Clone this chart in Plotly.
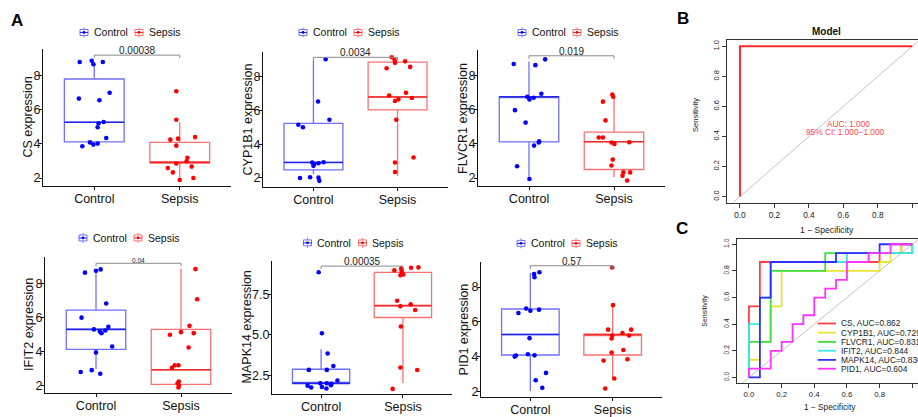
import plotly.graph_objects as go

W, H = 918, 417
FONT = "Liberation Sans, Arial, Helvetica, sans-serif"


def fx(p):
    return p / W


def fy(p):
    return 1 - p / H


GROUPS = ["Control", "Sepsis"]

# ---------------- Panel A data (expression values, jitter offsets, box stats) ----------------
# box stats: [lower whisker, Q1, median, Q3, upper whisker]
CS_CONTROL = [8.81, 8.88, 8.68, 8.81, 6.66, 6.56, 7.00, 5.29, 5.21, 4.98, 4.35, 4.09, 4.02, 3.96, 3.86]
CS_CONTROL_JITTER = [-0.17, -0.03, -0.01, 0.10, -0.18, 0.06, 0.18, 0.11, 0.05, 0.04, 0.14, -0.05, 0.04, -0.01, -0.14]
CS_SEPSIS = [7.09, 5.42, 4.25, 4.31, 4.40, 3.90, 3.19, 2.98, 2.85, 2.58, 2.67, 2.33, 1.88, 2.00]
CS_SEPSIS_JITTER = [-0.04, -0.04, -0.11, -0.02, 0.18, -0.04, 0.09, 0.08, -0.04, -0.14, 0.14, -0.08, 0.0, 0.16]
CS_BOX_CONTROL = [4.12, 4.12, 5.27, 7.81, 8.68]
CS_BOX_SEPSIS = [1.85, 2.90, 2.90, 4.09, 5.27]

CYP1B1_CONTROL = [9.03, 6.53, 5.45, 5.15, 5.01, 2.92, 2.83, 2.87, 2.93, 2.72, 2.00, 2.04, 2.02, 1.83]
CYP1B1_CONTROL_JITTER = [0.145, 0.055, 0.19, -0.18, -0.125, -0.015, 0.01, 0.06, 0.12, 0.0, -0.16, -0.04, 0.06, 0.07]
CYP1B1_SEPSIS = [9.15, 8.99, 8.82, 8.91, 8.58, 8.50, 6.89, 7.05, 6.66, 6.56, 6.74, 5.45, 2.92, 3.21, 2.35]
CYP1B1_SEPSIS_JITTER = [-0.07, -0.035, -0.03, 0.09, 0.15, -0.13, -0.10, 0.10, 0.01, -0.03, 0.17, -0.015, -0.03, 0.19, -0.03]
CYP1B1_BOX_CONTROL = [2.22, 2.48, 2.92, 5.24, 8.99]
CYP1B1_BOX_SEPSIS = [2.10, 6.04, 6.80, 8.86, 8.86]

FLVCR1_CONTROL = [8.69, 8.62, 8.96, 6.94, 6.77, 6.71, 6.61, 5.98, 5.25, 4.15, 4.08, 3.90, 2.69, 1.94]
FLVCR1_CONTROL_JITTER = [-0.18, 0.075, 0.19, 0.145, -0.02, 0.055, 0.005, -0.165, -0.04, 0.12, 0.115, 0.06, -0.14, 0.005]
FLVCR1_SEPSIS = [6.90, 6.77, 6.48, 5.38, 4.38, 4.38, 4.08, 4.00, 4.10, 3.08, 2.73, 2.33, 2.13, 2.33, 1.85]
FLVCR1_SEPSIS_JITTER = [-0.02, -0.01, -0.13, -0.10, -0.18, -0.13, -0.03, 0.005, 0.18, -0.015, -0.03, 0.11, 0.10, 0.19, 0.155]
FLVCR1_BOX_CONTROL = [2.00, 4.12, 6.77, 6.77, 8.83]
FLVCR1_BOX_SEPSIS = [2.05, 2.50, 4.13, 4.69, 6.75]

IFIT2_CONTROL = [8.62, 8.73, 8.81, 6.81, 5.98, 5.29, 5.44, 5.17, 5.23, 5.07, 4.29, 3.94, 2.79, 2.90, 2.69]
IFIT2_CONTROL_JITTER = [-0.13, 0.0, 0.055, 0.12, -0.17, -0.025, 0.145, 0.045, 0.11, 0.065, 0.19, 0.0, -0.18, -0.05, 0.05]
IFIT2_SEPSIS = [8.83, 7.06, 5.50, 5.13, 5.07, 4.98, 4.23, 3.19, 3.19, 3.04, 2.23, 2.13, 2.00, 1.88]
IFIT2_SEPSIS_JITTER = [0.17, 0.19, 0.10, 0.0, 0.15, -0.13, 0.09, -0.075, -0.03, -0.105, -0.025, -0.04, -0.025, -0.03]
IFIT2_BOX_CONTROL = [2.96, 4.12, 5.29, 6.42, 8.73]
IFIT2_BOX_SEPSIS = [2.06, 2.06, 2.92, 5.29, 8.85]

MAPK14_CONTROL = [8.85, 5.10, 3.86, 3.09, 2.85, 2.85, 2.20, 2.03, 2.03, 1.99, 1.91, 1.88, 1.77, 1.80, 1.71]
MAPK14_CONTROL_JITTER = [-0.03, 0.01, 0.08, 0.15, -0.15, 0.07, 0.20, -0.01, 0.07, 0.125, 0.12, -0.165, -0.12, 0.01, 0.065]
MAPK14_SEPSIS = [8.97, 8.97, 9.09, 9.13, 9.15, 8.81, 8.67, 8.71, 7.10, 6.88, 6.76, 6.53, 5.52, 3.00, 2.84, 1.68]
MAPK14_SEPSIS_JITTER = [-0.105, -0.015, -0.02, 0.10, 0.19, -0.015, -0.03, 0.005, -0.07, 0.095, -0.03, 0.15, -0.025, -0.03, 0.175, -0.125]
MAPK14_BOX_CONTROL = [2.02, 2.02, 2.02, 2.89, 4.12]
MAPK14_BOX_SEPSIS = [2.04, 6.07, 6.80, 8.85, 8.85]

PID1_CONTROL = [8.75, 8.85, 8.57, 6.51, 6.77, 6.64, 6.70, 5.06, 4.00, 4.06, 4.13, 4.07, 3.06, 2.64, 2.21]
PID1_CONTROL_JITTER = [0.045, 0.11, 0.05, -0.145, -0.05, 0.0, 0.105, -0.01, -0.19, -0.175, -0.03, 0.05, 0.19, 0.065, 0.145]
PID1_SEPSIS = [9.13, 6.96, 5.55, 5.55, 5.36, 5.21, 5.21, 5.04, 4.38, 4.23, 3.77, 3.85, 2.74, 2.16]
PID1_SEPSIS_JITTER = [-0.005, 0.005, -0.055, 0.225, 0.12, 0.20, -0.005, -0.012, 0.13, -0.012, -0.11, 0.18, 0.02, -0.09]
PID1_BOX_CONTROL = [2.02, 4.09, 5.27, 6.74, 8.81]
PID1_BOX_SEPSIS = [2.68, 4.09, 5.27, 5.27, 6.89]

GENES = ["CS", "CYP1B1", "FLVCR1", "IFIT2", "MAPK14", "PID1"]
P_VALUES = ["0.00038", "0.0034", "0.019", "0.04", "0.00035", "0.57"]
BRACKET_Y = [9.21, 9.15, 9.17, 9.17, 9.23, 9.23]

# ---------------- Panel B / C data ----------------
MODEL_FPR = [0.0, 0.0, 1.0]
MODEL_TPR = [0.0, 1.0, 1.0]
MODEL_AUC = "AUC: 1.000"
MODEL_CI = "95% CI: 1.000\u22121.000"

ROC_NAMES = ["CS", "CYP1B1", "FLVCR1", "IFIT2", "MAPK14", "PID1"]
ROC_AUC = ["0.862", "0.729", "0.831", "0.844", "0.836", "0.604"]
CS_FPR = [0, 0, 0.067, 0.067, 0.8, 0.8, 0.933, 0.933, 1.0]
CS_TPR = [0, 0.533, 0.533, 0.867, 0.867, 0.933, 0.933, 1.0, 1.0]
CYP1B1_FPR = [0, 0, 0.067, 0.067, 0.133, 0.133, 0.2, 0.2, 0.8, 0.8, 0.867, 0.867, 0.933, 0.933, 1.0]
CYP1B1_TPR = [0, 0.133, 0.133, 0.267, 0.267, 0.533, 0.533, 0.8, 0.8, 0.867, 0.867, 0.933, 0.933, 1.0, 1.0]
FLVCR1_FPR = [0, 0, 0.133, 0.133, 0.467, 0.467, 1.0, 1.0]
FLVCR1_TPR = [0, 0.267, 0.267, 0.8, 0.8, 0.933, 0.933, 1.0]
IFIT2_FPR = [0, 0, 0.067, 0.067, 0.133, 0.133, 0.6, 0.6, 1.0, 1.0]
IFIT2_TPR = [0, 0.4, 0.4, 0.6, 0.6, 0.867, 0.867, 0.933, 0.933, 1.0]
MAPK14_FPR = [0, 0.067, 0.067, 0.133, 0.133, 0.533, 0.533, 0.8, 0.8, 1.0]
MAPK14_TPR = [0, 0, 0.6, 0.6, 0.867, 0.867, 0.933, 0.933, 1.0, 1.0]
PID1_FPR = [0, 0, 0.133, 0.133, 0.2, 0.2, 0.267, 0.267, 0.333, 0.333, 0.4, 0.4, 0.467, 0.467,
            0.533, 0.533, 0.6, 0.6, 0.733, 0.733, 0.867, 0.867, 1.0]
PID1_TPR = [0, 0.067, 0.067, 0.2, 0.2, 0.267, 0.267, 0.4, 0.4, 0.467, 0.467, 0.6, 0.6, 0.667,
            0.667, 0.733, 0.733, 0.867, 0.867, 0.933, 0.933, 1.0, 1.0]
DIAGONAL = [-0.2, 1.2]
ROC_TICKS = [0.0, 0.2, 0.4, 0.6, 0.8, 1.0]
ROC_TICKTEXT = ["0.0", "0.2", "0.4", "0.6", "0.8", "1.0"]

# ---------------- styling ----------------
POINT_COL = ["#0000FF", "#FF0000"]
BOX_COL = ["#7070FF", "#FF7070"]
MED_COL = ["#2323E8", "#EE2A2A"]
ROC_COL = ["#FF4040", "#E6E632", "#3EE03E", "#3EE6E6", "#2F2FFF", "#FF33FF"]

# layout of the six box panels (pixel geometry)
PANEL_GEOM = [
    dict(x=(43, 231), y=(49, 188), yr=(1.54, 9.56), title_x=28, leg=(84, 32)),
    dict(x=(263, 448), y=(52, 189), yr=(1.476, 9.456), title_x=248, leg=(303, 32)),
    dict(x=(478, 665), y=(50, 188), yr=(1.54, 9.50), title_x=463, leg=(522, 32)),
    dict(x=(45, 232), y=(260, 399), yr=(1.54, 9.56), title_x=29, leg=(83, 241)),
    dict(x=(272, 452), y=(264, 400), yr=(1.35, 9.57), title_x=247, leg=(307.5, 246)),
    dict(x=(481, 662), y=(265, 403), yr=(1.66, 9.47), title_x=464, leg=(521, 246.5)),
]
P_SIZE = [10, 10, 10, 6.5, 10, 10]
Y_TICKS = [[2, 4, 6, 8]] * 4 + [[2.5, 5.0, 7.5]] + [[2, 4, 6, 8]]
Y_TICKTEXT = [["2", "4", "6", "8"]] * 4 + [["2.5", "5.0", "7.5"]] + [["2", "4", "6", "8"]]

DATA = [
    (CS_CONTROL, CS_CONTROL_JITTER, CS_BOX_CONTROL, CS_SEPSIS, CS_SEPSIS_JITTER, CS_BOX_SEPSIS),
    (CYP1B1_CONTROL, CYP1B1_CONTROL_JITTER, CYP1B1_BOX_CONTROL, CYP1B1_SEPSIS, CYP1B1_SEPSIS_JITTER, CYP1B1_BOX_SEPSIS),
    (FLVCR1_CONTROL, FLVCR1_CONTROL_JITTER, FLVCR1_BOX_CONTROL, FLVCR1_SEPSIS, FLVCR1_SEPSIS_JITTER, FLVCR1_BOX_SEPSIS),
    (IFIT2_CONTROL, IFIT2_CONTROL_JITTER, IFIT2_BOX_CONTROL, IFIT2_SEPSIS, IFIT2_SEPSIS_JITTER, IFIT2_BOX_SEPSIS),
    (MAPK14_CONTROL, MAPK14_CONTROL_JITTER, MAPK14_BOX_CONTROL, MAPK14_SEPSIS, MAPK14_SEPSIS_JITTER, MAPK14_BOX_SEPSIS),
    (PID1_CONTROL, PID1_CONTROL_JITTER, PID1_BOX_CONTROL, PID1_SEPSIS, PID1_SEPSIS_JITTER, PID1_BOX_SEPSIS),
]

fig = go.Figure()
shapes = []
anns = []
BOX_W = 0.7


def note(x, y, text, size, color="#111111", xanchor="center", yanchor="middle", angle=0,
         xref="paper", yref="paper", yshift=0):
    return dict(x=x, y=y, xref=xref, yref=yref, text=text, showarrow=False, xanchor=xanchor,
                yanchor=yanchor, textangle=angle, yshift=yshift,
                font=dict(size=size, family=FONT, color=color))


for i in range(6):
    n = i + 1
    xa = "x" if n == 1 else f"x{n}"
    ya = "y" if n == 1 else f"y{n}"
    g = PANEL_GEOM[i]
    cv, cj, cb, sv, sj, sb = DATA[i]
    for gi, (vals, jit, box) in enumerate([(cv, cj, cb), (sv, sj, sb)]):
        pos = gi + 1
        fig.add_trace(go.Box(
            x=[pos], lowerfence=[box[0]], q1=[box[1]], median=[box[2]], q3=[box[3]],
            upperfence=[box[4]], orientation="v", width=BOX_W, whiskerwidth=0,
            fillcolor="white", line=dict(color=BOX_COL[gi], width=1.3), boxpoints=False,
            xaxis=xa, yaxis=ya, showlegend=False, hoverinfo="skip"))
        fig.add_trace(go.Scatter(
            x=[pos - BOX_W / 2, pos + BOX_W / 2], y=[box[2], box[2]], mode="lines",
            line=dict(color=MED_COL[gi], width=1.6), xaxis=xa, yaxis=ya,
            showlegend=False, hoverinfo="skip"))
        fig.add_trace(go.Scatter(
            x=[pos + j for j in jit], y=vals, mode="markers",
            marker=dict(size=4.6, color=POINT_COL[gi], line=dict(width=0)),
            xaxis=xa, yaxis=ya, showlegend=False, hoverinfo="skip", cliponaxis=False))
    b = BRACKET_Y[i]
    fig.add_trace(go.Scatter(
        x=[1, 1, 2, 2], y=[b - 0.18, b, b, b - 0.18], mode="lines",
        line=dict(color="#8a8a8a", width=1), xaxis=xa, yaxis=ya,
        showlegend=False, hoverinfo="skip", cliponaxis=False))
    anns.append(note(1.5, b, P_VALUES[i], P_SIZE[i], "#222222", yanchor="bottom",
                     xref=xa, yref=ya, yshift=-3))
    axis_common = dict(showline=True, linecolor="#111111", linewidth=1, ticks="outside",
                       ticklen=3, tickcolor="#111111", tickwidth=1, showgrid=False,
                       zeroline=False, fixedrange=True)
    fig.update_layout(**{
        ("xaxis" if n == 1 else f"xaxis{n}"): dict(
            domain=[fx(g["x"][0]), fx(g["x"][1])], range=[0.4, 2.6], anchor=ya,
            tickvals=[1, 2], ticktext=GROUPS, ticklabelstandoff=-2,
            tickfont=dict(size=12.5, family=FONT, color="#111111"), **axis_common),
        ("yaxis" if n == 1 else f"yaxis{n}"): dict(
            domain=[fy(g["y"][1]), fy(g["y"][0])], range=list(g["yr"]), anchor=xa,
            tickvals=Y_TICKS[i], ticktext=Y_TICKTEXT[i], ticklabelstandoff=-4,
            tickfont=dict(size=12.5, family=FONT, color="#111111"), **axis_common),
    })
    anns.append(note(fx(g["title_x"]), fy((g["y"][0] + g["y"][1]) / 2),
                     f"{GENES[i]} expression", 12.5, angle=-90))
    lx, ly = g["leg"]
    for gi, off in enumerate([0, 55]):
        cx = lx + off
        col = BOX_COL[gi]
        shapes.append(dict(type="rect", xref="paper", yref="paper", x0=fx(cx - 4), x1=fx(cx + 4),
                           y0=fy(ly + 3), y1=fy(ly - 3), line=dict(color=col, width=1)))
        shapes.append(dict(type="line", xref="paper", yref="paper", x0=fx(cx - 4), x1=fx(cx + 4),
                           y0=fy(ly), y1=fy(ly), line=dict(color=MED_COL[gi], width=1)))
        shapes.append(dict(type="line", xref="paper", yref="paper", x0=fx(cx), x1=fx(cx),
                           y0=fy(ly - 5), y1=fy(ly - 3), line=dict(color=col, width=1)))
        shapes.append(dict(type="line", xref="paper", yref="paper", x0=fx(cx), x1=fx(cx),
                           y0=fy(ly + 3), y1=fy(ly + 5), line=dict(color=col, width=1)))
        shapes.append(dict(type="circle", xref="paper", yref="paper", x0=fx(cx - 1.4),
                           x1=fx(cx + 1.4), y0=fy(ly + 1.4), y1=fy(ly - 1.4),
                           fillcolor=POINT_COL[gi], line=dict(width=0)))
        anns.append(note(fx(cx + 7.5), fy(ly), GROUPS[gi], 10.5, xanchor="left"))

# ---------------- Panel B ----------------
r_axis = dict(showline=True, linecolor="#333333", linewidth=1, ticks="outside", ticklen=4,
              tickcolor="#333333", showgrid=False, zeroline=False, fixedrange=True,
              tickvals=ROC_TICKS, ticktext=ROC_TICKTEXT)
fig.add_trace(go.Scatter(x=DIAGONAL, y=DIAGONAL, mode="lines", line=dict(color="#c4c4c4", width=1),
                         xaxis="x7", yaxis="y7", showlegend=False, hoverinfo="skip"))
fig.add_trace(go.Scatter(x=MODEL_FPR, y=MODEL_TPR, mode="lines", line=dict(color="#FF2B2B", width=2),
                         xaxis="x7", yaxis="y7", showlegend=False, hoverinfo="skip"))
fig.update_layout(
    xaxis7=dict(domain=[fx(726.7), 1.0], range=[-0.077, 1.033], anchor="y7", mirror=True,
                tickfont=dict(size=8.3, family=FONT, color="#222222"), **r_axis),
    yaxis7=dict(domain=[fy(205), fy(40)], range=[-0.04, 1.04], anchor="x7", tickangle=-90,
                tickfont=dict(size=7.5, family=FONT, color="#222222"), **r_axis),
)
anns += [
    note(0.627, 0.484, MODEL_AUC, 8.3, "#FF4444", xref="x7", yref="y7"),
    note(0.61, 0.428, MODEL_CI, 8.3, "#FF4444", xref="x7", yref="y7"),
    note(fx(826), fy(31), "<b>Model</b>", 10),
    note(fx(695), fy(116), "Sensitivity", 7.6, "#222222", angle=-90),
    note(fx(827), fy(233), "1 \u2212 Specificity", 8.6, "#222222"),
]

# ---------------- Panel C ----------------
fig.add_trace(go.Scatter(x=DIAGONAL, y=DIAGONAL, mode="lines", line=dict(color="#c4c4c4", width=1),
                         xaxis="x8", yaxis="y8", showlegend=False, hoverinfo="skip"))
ROC_SERIES = [(CS_FPR, CS_TPR), (CYP1B1_FPR, CYP1B1_TPR), (FLVCR1_FPR, FLVCR1_TPR),
              (IFIT2_FPR, IFIT2_TPR), (MAPK14_FPR, MAPK14_TPR), (PID1_FPR, PID1_TPR)]
for k, (fpr, tpr) in enumerate(ROC_SERIES):
    fig.add_trace(go.Scatter(x=fpr, y=tpr, mode="lines", line=dict(color=ROC_COL[k], width=1.8),
                             xaxis="x8", yaxis="y8", showlegend=False, hoverinfo="skip"))
fig.update_layout(
    xaxis8=dict(domain=[fx(736.7), 1.0], range=[-0.075, 1.035], anchor="y8", mirror=True,
                tickfont=dict(size=7.8, family=FONT, color="#222222"), **r_axis),
    yaxis8=dict(domain=[fy(388.3), fy(242)], range=[-0.04, 1.04], anchor="x8", tickangle=-90,
                tickfont=dict(size=6.8, family=FONT, color="#222222"), **r_axis),
)
LEG_ROWS = [328, 337.3, 346.7, 355.7, 365, 374]
for k, name in enumerate(ROC_NAMES):
    shapes.append(dict(type="line", xref="paper", yref="paper", x0=fx(817.7), x1=fx(836),
                       y0=fy(LEG_ROWS[k]), y1=fy(LEG_ROWS[k]),
                       line=dict(color=ROC_COL[k], width=1.8)))
    anns.append(note(fx(839), fy(LEG_ROWS[k]), f"{name}, AUC={ROC_AUC[k]}", 8.4, "#222222",
                     xanchor="left"))
anns += [
    note(fx(705), fy(315), "Sensitivity", 7, "#222222", angle=-90),
    note(fx(830), fy(413), "1 \u2212 Specificity", 8.3, "#222222"),
]

for letter, (lx, ly) in zip(["A", "B", "C"], [(17, 19.5), (682.5, 18), (682, 231.5)]):
    anns.append(note(fx(lx), fy(ly), f"<b>{letter}</b>", 17, "#000000"))

fig.update_layout(
    width=W, height=H, margin=dict(l=0, r=0, t=0, b=0), autosize=False,
    paper_bgcolor="white", plot_bgcolor="white", showlegend=False,
    shapes=shapes, annotations=anns,
)

fig.write_html("out.html", config={"displayModeBar": False},
               post_script="document.body.style.margin='0px';document.body.style.padding='0px';")
